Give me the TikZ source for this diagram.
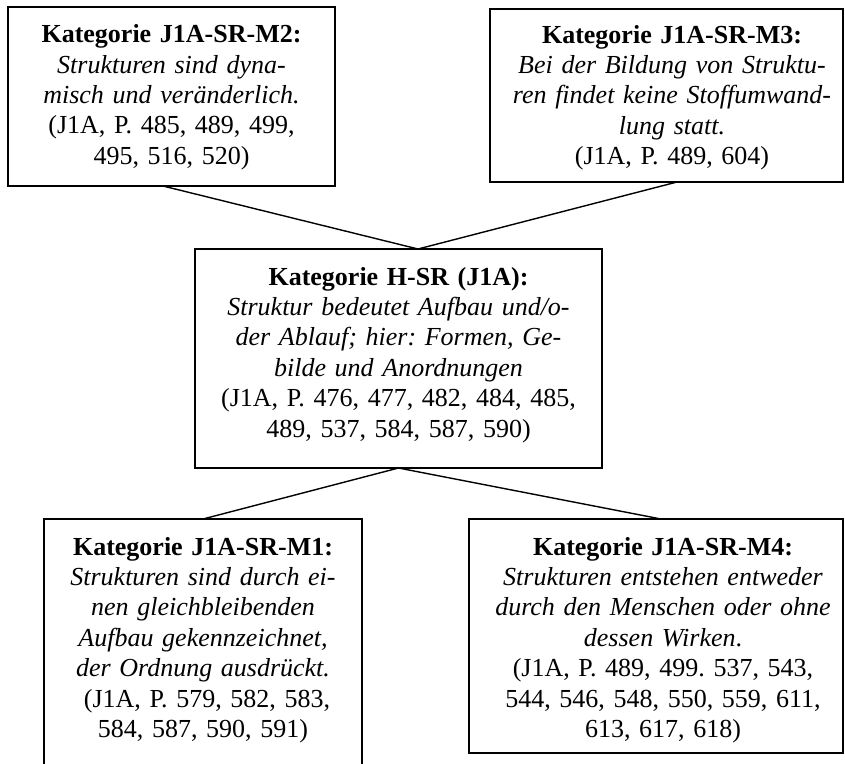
\documentclass[tikz,border=0pt]{standalone}
\usepackage{fontspec}
\setmainfont{Liberation Serif}
\frenchspacing
\begin{document}
\begin{tikzpicture}[x=1pt,y=-1pt,
  frame/.style={draw=black, line width=1.6pt, inner sep=0pt, outer sep=0pt, anchor=north west},
  wire/.style={draw=black, line width=1.4pt},
  body/.style={anchor=base, align=center, inner sep=0pt,
    font=\fontsize{26}{30.4}\selectfont}]
\useasboundingbox (0,0) rectangle (845,763);
\fill[white] (0,0) rectangle (845,763);
\clip (0,0) rectangle (845,763);

% category frames
\node[frame, minimum width=327pt, minimum height=179pt] (m2) at (8,7) {};
\node[frame, minimum width=353pt, minimum height=173pt] (m3) at (490,9) {};
\node[frame, minimum width=407pt, minimum height=219pt] (hsr) at (195,249) {};
\node[frame, minimum width=318pt, minimum height=280pt] (m1) at (44,519) {};
\node[frame, minimum width=374pt, minimum height=234pt] (m4) at (469,519) {};

% category texts
\node[body, text width=300pt] (m2text) at (171.5,42.7)
  {\textbf{Kategorie J1A-SR-M2:}\\
   \textit{Strukturen sind dyna-}\\
   \textit{misch und veränderlich.}\\
   (J1A, P. 485, 489, 499,\\
   495, 516, 520)};
\node[body, text width=350pt] (m3text) at (672,43)
  {\textbf{Kategorie J1A-SR-M3:}\\
   \textit{Bei der Bildung von Struktu-}\\
   \textit{ren findet keine Stoffumwand-}\\
   \textit{lung statt.}\\
   (J1A, P. 489, 604)};
\node[body, text width=400pt] (hsrtext) at (398.5,285)
  {\textbf{Kategorie H-SR (J1A):}\\
   \textit{Struktur bedeutet Aufbau und/o-}\\
   \textit{der Ablauf; hier: Formen, Ge-}\\
   \textit{bilde und Anordnungen}\\
   (J1A, P. 476, 477, 482, 484, 485,\\
   489, 537, 584, 587, 590)};
\node[body, text width=310pt] (m1text) at (203,555)
  {\textbf{Kategorie J1A-SR-M1:}\\
   \textit{Strukturen sind durch ei-}\\
   \textit{nen gleichbleibenden}\\
   \textit{Aufbau gekennzeichnet,}\\
   \textit{der Ordnung ausdrückt.}\\
   \hspace*{8pt}(J1A, P. 579, 582, 583,\\
   584, 587, 590, 591)};
\node[body, text width=370pt] (m4text) at (663,555)
  {\textbf{Kategorie J1A-SR-M4:}\\
   \textit{Strukturen entstehen entweder}\\
   \textit{durch den Menschen oder ohne}\\
   \textit{dessen Wirken}.\\
   (J1A, P. 489, 499. 537, 543,\\
   544, 546, 548, 550, 559, 611,\\
   613, 617, 618)};

% connectors
\draw[wire] ([xshift=-8.5pt]m2.south) -- ([xshift=19.5pt]hsr.north);
\draw[wire] ([xshift=10.5pt]m3.south) -- ([xshift=19.5pt]hsr.north);
\draw[wire] (hsr.south) -- (m1.north);
\draw[wire] (hsr.south) -- ([xshift=5pt]m4.north);
\end{tikzpicture}
\end{document}
